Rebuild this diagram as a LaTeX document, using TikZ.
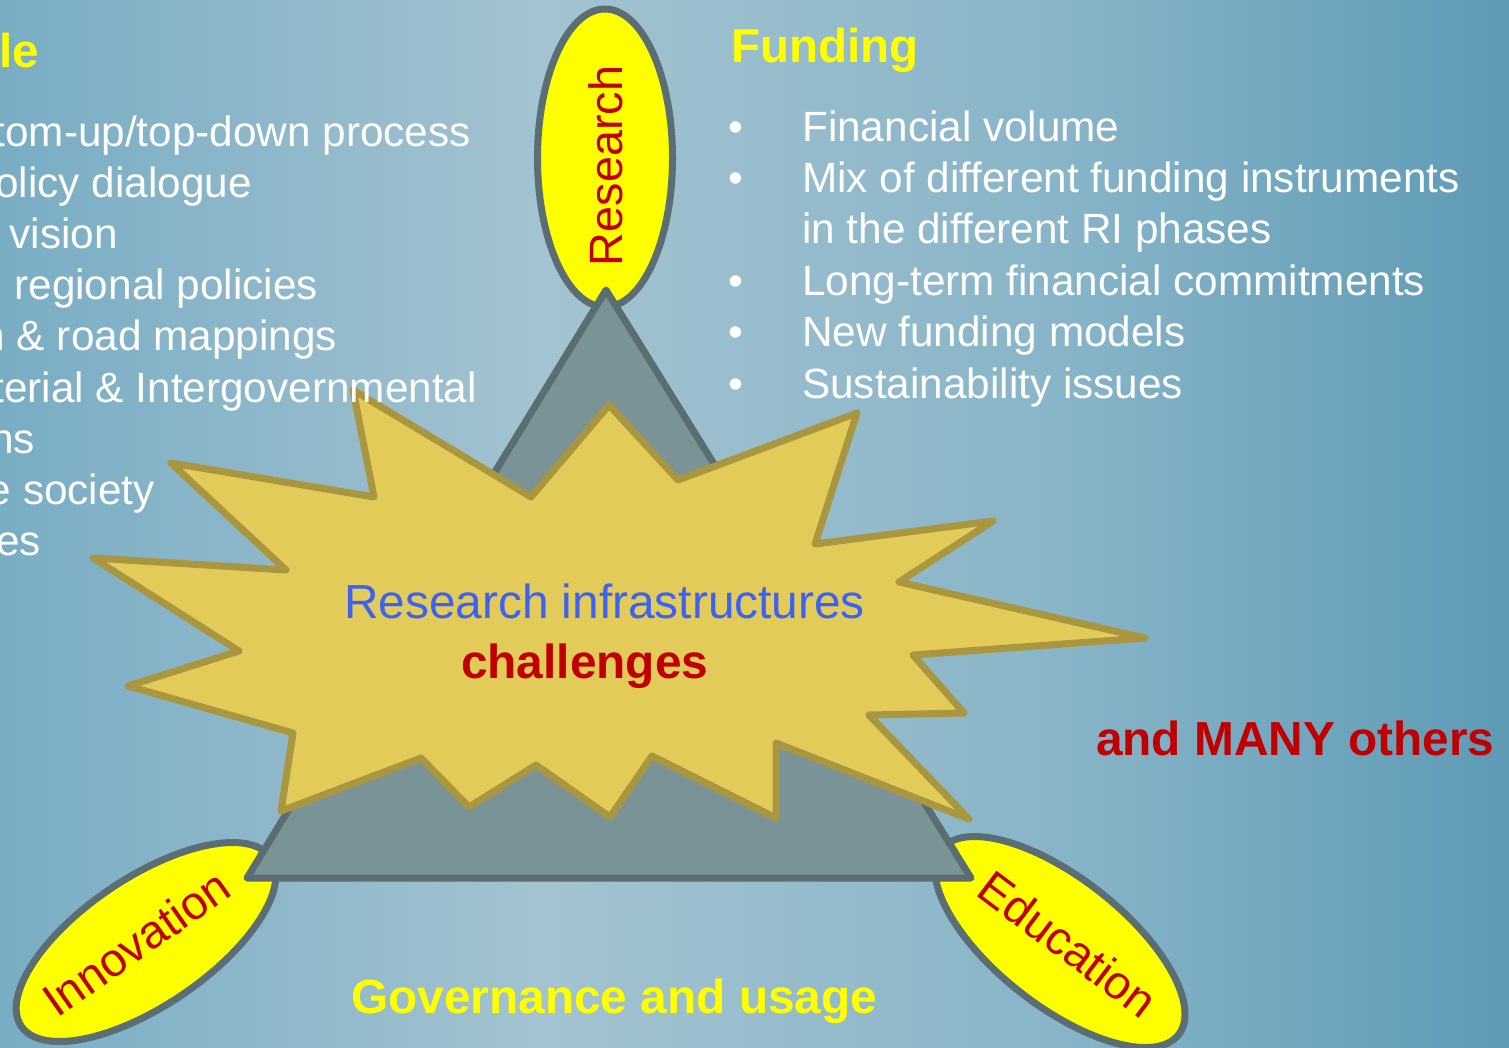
\documentclass[tikz,border=0pt]{standalone}
\usepackage{fontspec}
\setmainfont{Liberation Sans}
\usetikzlibrary{shapes.geometric}
\definecolor{bgL}{HTML}{79ADC4}
\definecolor{bgM}{HTML}{A3C3D0}
\definecolor{bgR1}{HTML}{88B5C8}
\definecolor{bgR}{HTML}{5E9AB5}
\definecolor{ellStroke}{HTML}{5A6E73}
\definecolor{triFill}{HTML}{7A9397}
\definecolor{triStroke}{HTML}{5A6E72}
\definecolor{burstFill}{HTML}{E2CB59}
\definecolor{burstStroke}{HTML}{A9963E}
\definecolor{redT}{HTML}{C00000}
\definecolor{blueT}{HTML}{3B62F2}
\definecolor{yelT}{HTML}{FFFF00}
\pgfdeclarehorizontalshading{bgshade}{100bp}{color(0bp)=(bgL); color(25bp)=(bgL); color(43bp)=(bgM); color(60bp)=(bgR1); color(75bp)=(bgR); color(100bp)=(bgR)}
\tikzset{
  wtxt/.style={inner sep=0pt, text=white, font=\fontsize{42.3}{50}\selectfont},
  ytitle/.style={inner sep=0pt, text=yelT, font=\fontsize{47.5}{56}\selectfont\bfseries},
  blob/.style={ellipse, draw=ellStroke, line width=7pt, fill=yelT, inner sep=0pt},
  lbl/.style={inner sep=0pt, text=redT, font=\fontsize{46.8}{55}\selectfont},
  tri/.style={draw=triStroke, fill=triFill, line width=7pt, line join=round},
  burst/.style={draw=burstStroke, fill=burstFill, line width=7pt, line join=round},
  bigbold/.style={inner sep=0pt, font=\fontsize{47.8}{57}\selectfont\bfseries},
}
\begin{document}
\begin{tikzpicture}[x=1pt,y=-1pt]
\useasboundingbox (0,0) rectangle (1509,1048);
\clip (0,0) rectangle (1509,1048);
\shade[shading=bgshade] (0,0) rectangle (1509,1048);

% ellipses
\node[blob, minimum width=298pt, minimum height=135pt, rotate=90] (research) at (605,158) {};
\node[blob, minimum width=301pt, minimum height=128pt, rotate=34] (innov) at (146,942) {};
\node[blob, minimum width=301pt, minimum height=128pt, rotate=-38] (educ) at (1060,942) {};

% triangle
\coordinate (apex) at (606,290);
\coordinate (bl) at (247,878);
\coordinate (br) at (971,878);
\draw[tri] (apex) -- (bl) -- (br) -- cycle;

% ellipse labels
\node[lbl, rotate=90] (researchlbl) at (606,166) {Research};
\node[lbl, rotate=35] (innovlbl) at (136,943) {Innovation};
\node[lbl, rotate=-37] (educlbl) at (1068,944) {Education};

% starburst
\draw[burst] (353,390) -- (531,497) -- (609,405) -- (678,480) -- (857,413)
  -- (815,544) -- (993,521) -- (899,582) -- (1145,638) -- (913,655)
  -- (964,713) -- (869,715) -- (969,819) -- (776,743) -- (776,818)
  -- (652,756) -- (610,817) -- (536,765) -- (469,807) -- (421,758)
  -- (281,811) -- (293,733) -- (128,686) -- (239,651) -- (93,558)
  -- (286,570) -- (171,463) -- (374,497) -- cycle;

% centre text
\node[inner sep=0pt, text=blueT, font=\fontsize{47.8}{57}\selectfont, anchor=base west] (ri) at (344,618) {Research infrastructures};
\node[bigbold, text=redT, anchor=base west] (chal) at (461,678) {challenges};

% left list (clipped)
\node[ytitle, anchor=base east] (ltitle) at (39,68) {le};
\node[wtxt, anchor=base east] (l1) at (471,147) {tom-up/top-down process};
\node[wtxt, anchor=base east] (l2) at (252,198) {olicy dialogue};
\node[wtxt, anchor=base east] (l3) at (118,249) {vision};
\node[wtxt, anchor=base east] (l4) at (318,300) {regional policies};
\node[wtxt, anchor=base east] (l5) at (337,351) {n \& road mappings};
\node[wtxt, anchor=base east] (l6) at (477,402) {terial \& Intergovernmental};
\node[wtxt, anchor=base east] (l7) at (35,453) {ns};
\node[wtxt, anchor=base east] (l8) at (155,504) {e society};
\node[wtxt, anchor=base east] (l9) at (41,555) {es};

% funding list
\node[ytitle, anchor=base west] (ftitle) at (731,63) {Funding};
\foreach \y/\t [count=\i] in {142/Financial volume, 193/Mix of different funding instruments, 296/Long-term financial commitments, 347/New funding models, 398/Sustainability issues}{
  \node[wtxt, anchor=base] (fb\i) at (736,\y) {•};
  \node[wtxt, anchor=base west] (f\i) at (802,\y) {\t};
}
\node[wtxt, anchor=base west] (f2b) at (802,244) {in the different RI phases};

% other labels
\node[bigbold, text=redT, anchor=base west] (many) at (1096,755) {and MANY others};
\node[bigbold, text=yelT, anchor=base west] (gov) at (351,1013) {Governance and usage};
\end{tikzpicture}
\end{document}
